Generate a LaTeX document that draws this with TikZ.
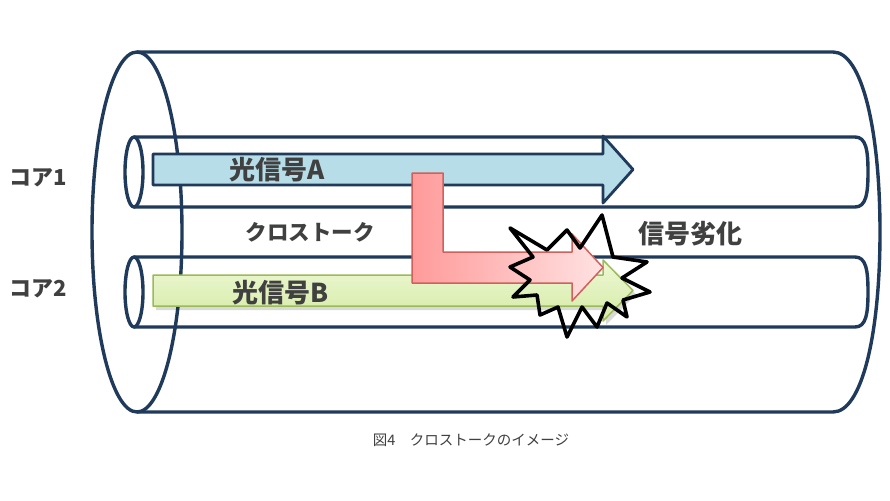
\documentclass[tikz,border=0pt]{standalone}
\usepackage{fontspec}
\newfontfamily\jp{Noto Sans CJK JP}
\definecolor{navy}{HTML}{1F3A5A}
\definecolor{txt}{HTML}{404040}
\definecolor{bluefill}{HTML}{B7DEE8}
\definecolor{greenline}{HTML}{9BBB59}
\definecolor{greentop}{HTML}{EEF8D6}
\definecolor{greenbot}{HTML}{D5EBA5}
\definecolor{redline}{HTML}{D0605C}
\definecolor{redleft}{HTML}{FF9A9A}
\definecolor{redright}{HTML}{FFE2E2}
\tikzset{
  tube/.style={draw=navy, line width=3.4},
  lbl/.style={font=\jp\bfseries, text=txt, inner sep=0pt},
}
\begin{document}
\begin{tikzpicture}[x=1pt,y=-1pt,line join=round]
\useasboundingbox (0,0) rectangle (890,500);
\fill[white] (0,0) rectangle (890,500);
% outer cladding
\draw[tube] (137,52) -- (833,52) .. controls (862,52) and (880,130) .. (880,232)
  .. controls (880,334) and (862,412) .. (833,412) -- (137,412);
\draw[tube] (137,232) ellipse [x radius=45, y radius=180];
% core 1
\draw[tube] (134,137) -- (855,137) .. controls (866,137) and (868,150) .. (868,172)
  .. controls (868,194) and (866,207) .. (855,207) -- (134,207);
\draw[tube] (134,172) ellipse [x radius=9, y radius=35];
% core 2
\draw[tube] (134,257) -- (855,257) .. controls (866,257) and (868,270) .. (868,292)
  .. controls (868,314) and (866,327) .. (855,327) -- (134,327);
\draw[tube] (134,292) ellipse [x radius=9, y radius=35];
% signal A
\draw[draw=navy, fill=bluefill, line width=2.8] (153,154) -- (603,154) -- (603,136) -- (633,169.5)
  -- (603,203) -- (603,185) -- (153,185) -- cycle;
% signal B (shadow + arrow)
\fill[black, opacity=0.15] (156,279) -- (606,279) -- (606,264) -- (636,294.5)
  -- (606,325) -- (606,310) -- (156,310) -- cycle;
\shadedraw[draw=greenline, top color=greentop, bottom color=greenbot, line width=1.5]
  (153,275) -- (603,275) -- (603,260) -- (633,290.5) -- (603,321) -- (603,306) -- (153,306) -- cycle;
% crosstalk L arrow
\shadedraw[draw=redline, left color=redleft, right color=redright, line width=1.5]
  (412,173) -- (443,173) -- (443,252) -- (572,252) -- (572,234) -- (603,267.5)
  -- (572,301) -- (572,283) -- (412,283) -- cycle;
% starburst
\draw[black, line width=3.6]
  (510,228) -- (547,250) -- (567,230) -- (580,248) -- (602,215) -- (613,257)
  -- (647,262) -- (622,278) -- (650,292) -- (623,300) -- (627,317) -- (607,303)
  -- (597,327) -- (582,307) -- (567,337) -- (558,307) -- (540,315) -- (537,295)
  -- (513,297) -- (530,280) -- (510,267) -- (533,257) -- cycle;
% labels
\node[lbl, font=\jp\bfseries\fontsize{22}{22}\selectfont] (c1) at (38,178) {コア1};
\node[lbl, font=\jp\bfseries\fontsize{22}{22}\selectfont] (c2) at (38,289) {コア2};
\node[lbl, font=\jp\bfseries\fontsize{26}{26}\selectfont] (la) at (277,170) {光信号A};
\node[lbl, font=\jp\bfseries\fontsize{26}{26}\selectfont] (lb) at (281,293) {光信号B};
\node[lbl, font=\jp\bfseries\fontsize{21.5}{22}\selectfont] (xt) at (310,232) {クロストーク};
\node[lbl, font=\jp\bfseries\fontsize{26}{26}\selectfont] (dg) at (690,234) {信号劣化};
\node[font=\jp\fontsize{14.5}{14.5}\selectfont, text=txt, inner sep=0pt] (cap) at (471,440) {図4　クロストークのイメージ};
\end{tikzpicture}
\end{document}
